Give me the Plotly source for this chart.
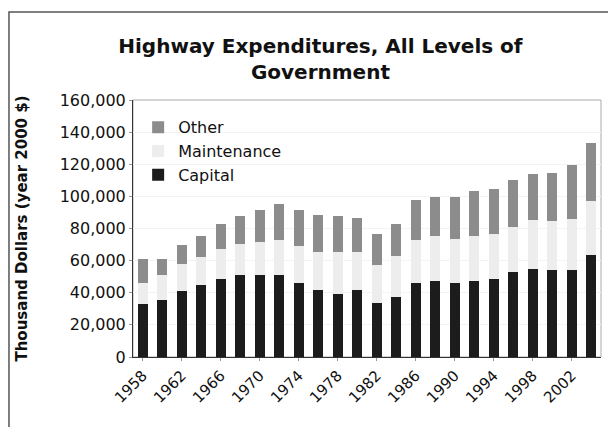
import plotly.graph_objects as go

# Data (thousand dollars, year 2000 $)
years = list(range(1958, 2005, 2))
capital = [32900, 35800, 41300, 45000, 48300, 50800, 50800, 50800, 45800, 41700, 39200, 41700,
           33800, 37500, 45800, 47500, 46300, 47500, 48800, 52700, 55000, 54000, 54000, 63800]
maint_top = [46300, 51000, 57900, 62500, 67100, 70200, 71900, 72700, 69200, 65400, 65200, 65600,
             57300, 62900, 72900, 75400, 73300, 75400, 76700, 80800, 85000, 84400, 85800, 97100]
total = [60800, 61300, 69600, 75400, 82700, 87500, 91700, 95000, 91300, 88300, 87700, 86700,
         76300, 82900, 97900, 99400, 99400, 103300, 104800, 110000, 113700, 114600, 119800, 133300]
maintenance = [m - c for m, c in zip(maint_top, capital)]
other = [t - m for t, m in zip(total, maint_top)]
tick_years = list(range(1958, 2003, 4))

font_family = 'DejaVu Sans, Verdana, sans-serif'

fig = go.Figure()
fig.add_trace(go.Bar(x=years, y=capital, name='Capital',
                     marker=dict(color='#1c1c1c', line=dict(width=0))))
fig.add_trace(go.Bar(x=years, y=maintenance, name='Maintenance',
                     marker=dict(color='#ededed', line=dict(width=0))))
fig.add_trace(go.Bar(x=years, y=other, name='Other',
                     marker=dict(color='#8c8c8c', line=dict(width=0))))

fig.update_layout(
    barmode='stack',
    bargap=0.5,
    width=608, height=427,
    margin=dict(l=133, r=7, t=100, b=70),
    paper_bgcolor='white',
    plot_bgcolor='white',
    font=dict(family=font_family, color='#111111', size=15),
    title=dict(
        text='<b>Highway Expenditures, All Levels of<br>Government</b>',
        x=0.527, xanchor='center', y=0.876, yanchor='top',
        font=dict(size=20, color='#111111'),
    ),
    legend=dict(
        x=0.011, y=0.96, xanchor='left', yanchor='top',
        traceorder='reversed', bgcolor='rgba(0,0,0,0)',
        font=dict(size=16), itemwidth=30, tracegroupgap=0,
    ),
    showlegend=True,
    xaxis=dict(
        range=[1957, 2005],
        tickvals=tick_years,
        ticktext=[str(y) for y in tick_years],
        tickangle=-45,
        tickfont=dict(size=15),
        showgrid=False,
        showline=True, linecolor='#333333', linewidth=1,
        ticks='outside', ticklen=3, tickcolor='#999999',
        zeroline=False,
    ),
    yaxis=dict(
        range=[0, 160000],
        dtick=20000,
        tickformat=',',
        tickfont=dict(size=16),
        title=dict(text='<b>Thousand Dollars (year 2000 $)</b>', font=dict(size=15), standoff=28),
        showgrid=True, gridcolor='#f3f3f3',
        showline=True, linecolor='#333333', linewidth=1,
        ticks='outside', ticklen=3, tickcolor='#999999',
        zeroline=False,
    ),
    shapes=[
        # plot area frame
        dict(type='rect', xref='paper', yref='paper', x0=0, y0=0, x1=1, y1=1,
             line=dict(color='#aaaaaa', width=1), layer='below'),
        # outer chart frame
        dict(type='rect', xref='paper', yref='paper', x0=-0.265, y0=-0.4, x1=1.05, y1=1.342,
             line=dict(color='#555555', width=1.5)),
    ],
)

fig.write_html('out.html', config={'displayModeBar': False},
               post_script="document.body.style.margin='0';document.body.style.overflow='hidden';")
